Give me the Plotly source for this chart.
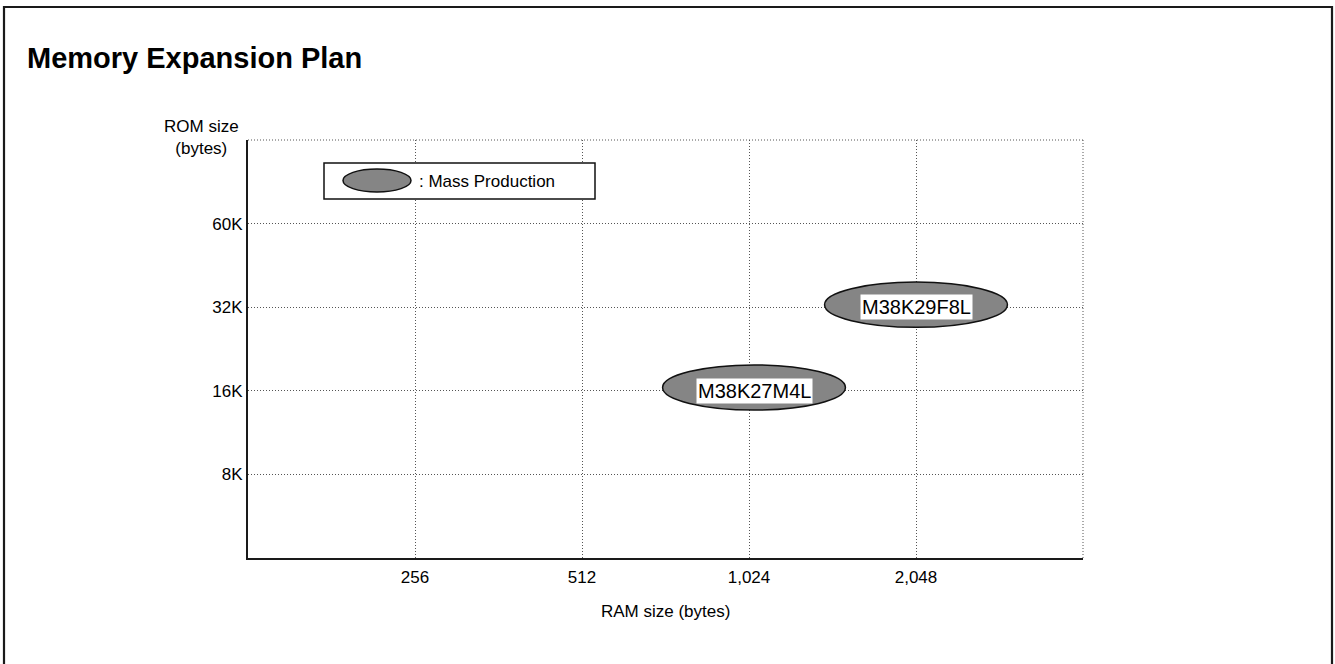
import plotly.graph_objects as go

# ---- data ----
ram_labels = ["256", "512", "1,024", "2,048"]
rom_labels = ["8K", "16K", "32K", "60K"]
products = ["M38K27M4L", "M38K29F8L"]
product_ram = ["1,024", "2,048"]
product_rom = ["16K", "32K"]
legend_label = ": Mass Production"
title_text = "Memory Expansion Plan"
x_title = "RAM size (bytes)"
y_title = "ROM size<br>(bytes)"

# ---- layout geometry / style ----
W, H = 1335, 664
L, R, T, B = 248, 252, 140, 106
PW, PH = W - L - R, H - T - B
FONT = "Liberation Sans, Arial, Helvetica, sans-serif"
GRID = "#555555"
FILL = "#858585"
ELL_W, ELL_H = 1.095, 0.54
x_nudge = [0.03, 0.0]
y_nudge = [0.04, 0.03]


def px(x):
    return (x - L) / PW


def py(y):
    return (H - B - y) / PH


fig = go.Figure()
fig.add_trace(go.Scatter(
    x=product_ram, y=product_rom, mode="markers", text=products,
    marker=dict(opacity=0), hoverinfo="text", showlegend=False,
))

shapes = []
annotations = []

# ellipses + labels
for i, name in enumerate(products):
    cx = ram_labels.index(product_ram[i]) + x_nudge[i]
    cy = rom_labels.index(product_rom[i]) + y_nudge[i]
    shapes.append(dict(type="circle", xref="x", yref="y",
                       x0=cx - ELL_W / 2, x1=cx + ELL_W / 2,
                       y0=cy - ELL_H / 2, y1=cy + ELL_H / 2,
                       fillcolor=FILL, line=dict(color="#111111", width=1.5),
                       layer="above"))
    annotations.append(dict(x=ram_labels.index(product_ram[i]) + x_nudge[i],
                            y=rom_labels.index(product_rom[i]),
                            xref="x", yref="y", text=name, showarrow=False,
                            bgcolor="white", borderpad=1,
                            font=dict(family=FONT, size=20, color="black")))

# top & right dotted edges
shapes.append(dict(type="line", xref="paper", yref="paper", x0=0, x1=1, y0=1, y1=1,
                   line=dict(color=GRID, width=1, dash="1px,2px"), layer="below"))
shapes.append(dict(type="line", xref="paper", yref="paper", x0=1, x1=1, y0=0, y1=1,
                   line=dict(color=GRID, width=1, dash="1px,2px"), layer="below"))

# legend box
shapes.append(dict(type="rect", xref="paper", yref="paper",
                   x0=px(324), x1=px(595), y0=py(199), y1=py(163),
                   fillcolor="white", line=dict(color="#111111", width=1.5)))
shapes.append(dict(type="circle", xref="paper", yref="paper",
                   x0=px(343), x1=px(411), y0=py(192), y1=py(169),
                   fillcolor=FILL, line=dict(color="#111111", width=1.5)))
annotations.append(dict(x=px(417), y=py(181), xref="paper", yref="paper",
                        text=legend_label, showarrow=False, xanchor="left",
                        yanchor="middle", font=dict(family=FONT, size=17, color="black")))

# frame border
shapes.append(dict(type="rect", xref="paper", yref="paper",
                   x0=px(4), x1=px(1332), y0=py(720), y1=py(7),
                   line=dict(color="#1a1a1a", width=2.2), layer="below"))

# title & axis titles
annotations.append(dict(x=px(25), y=py(58), xref="paper", yref="paper",
                        text="<b>" + title_text + "</b>", showarrow=False,
                        xanchor="left", yanchor="middle",
                        font=dict(family=FONT, size=29, color="black")))
annotations.append(dict(x=px(201), y=py(137), xref="paper", yref="paper",
                        text=y_title, showarrow=False, xanchor="center", yanchor="middle",
                        font=dict(family=FONT, size=17, color="black")))
annotations.append(dict(x=0.5, y=py(611), xref="paper", yref="paper",
                        text=x_title, showarrow=False, xanchor="center", yanchor="middle",
                        font=dict(family=FONT, size=17, color="black")))

axis_common = dict(
    type="category", showgrid=True, gridcolor=GRID, gridwidth=1, griddash="1px,2px",
    showline=True, linecolor="#1a1a1a", linewidth=2, ticks="", zeroline=False,
    tickfont=dict(family=FONT, size=17, color="black"), fixedrange=True,
)

fig.update_layout(
    width=W, height=H, margin=dict(l=L, r=R, t=T, b=B, autoexpand=False),
    paper_bgcolor="white", plot_bgcolor="white",
    xaxis=dict(categoryorder="array", categoryarray=ram_labels, range=[-1, 4],
               ticklabelstandoff=3, **axis_common),
    yaxis=dict(categoryorder="array", categoryarray=rom_labels, range=[-1, 4],
               ticklabelstandoff=0, **axis_common),
    shapes=shapes, annotations=annotations, showlegend=False,
    font=dict(family=FONT, color="black"),
)

fig.write_html("out.html", config={"displayModeBar": False},
               post_script="document.body.style.margin='0';document.body.style.overflow='hidden';")
